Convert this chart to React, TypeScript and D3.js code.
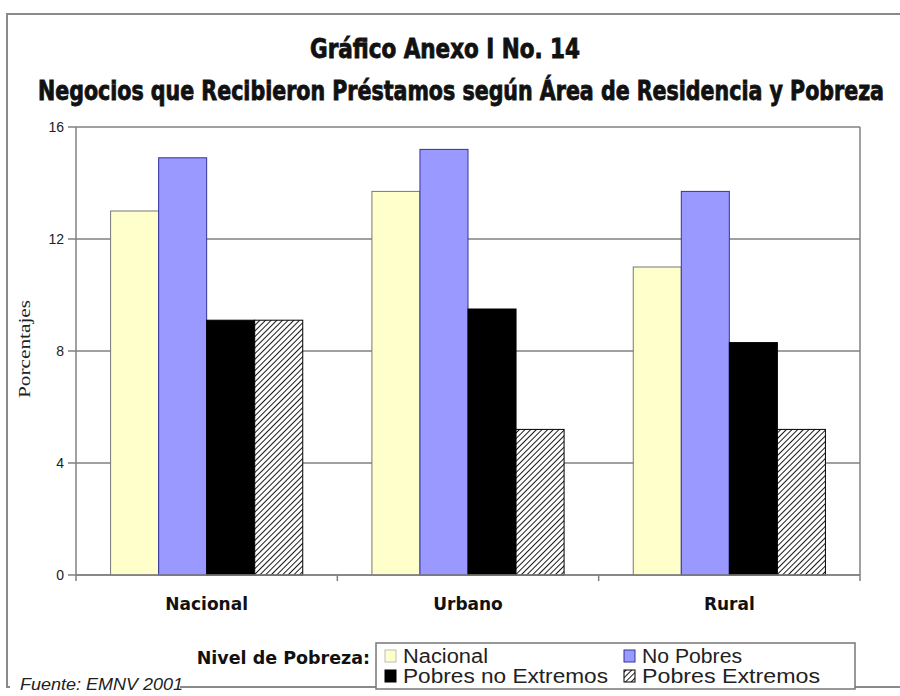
import React from "react";
import * as d3 from "d3";

const categories = ["Nacional", "Urbano", "Rural"];
const seriesNames = ["Nacional", "No Pobres", "Pobres no Extremos", "Pobres Extremos"];
const nacionalValues = [13.0, 13.7, 11.0];
const noPobresValues = [14.9, 15.2, 13.7];
const pobresNoExtremosValues = [9.1, 9.5, 8.3];
const pobresExtremosValues = [9.1, 5.2, 5.2];
const yTicks = [0, 4, 8, 12, 16];

const seriesValues = [nacionalValues, noPobresValues, pobresNoExtremosValues, pobresExtremosValues];
const fills = ["#FFFFCC", "#9999FF", "#000000", "url(#hatch)"];
const strokes = ["#777777", "#333399", "#000000", "#000000"];

const titleFont = "'DejaVu Sans Condensed', 'Liberation Sans Narrow', 'DejaVu Sans', sans-serif";

export default function App() {
  const W = 900, H = 696;
  const left = 76, right = 860, top = 127, bottom = 575;
  const x0 = d3.scaleBand<string>().domain(categories).range([left, right]).padding(0);
  const x1 = d3.scaleBand<string>().domain(seriesNames).range([0, x0.bandwidth()]).paddingInner(0).paddingOuter(0.72);
  const y = d3.scaleLinear().domain([0, 16]).range([bottom, top]);
  const boundaries = [left, ...categories.map((c) => (x0(c) as number) + x0.bandwidth())];

  const legendItems = [
    { name: seriesNames[0], x: 384, y: 663, i: 0, len: 85 },
    { name: seriesNames[1], x: 623, y: 663, i: 1, len: 100 },
    { name: seriesNames[2], x: 384, y: 683, i: 2, len: 205 },
    { name: seriesNames[3], x: 623, y: 683, i: 3, len: 178 },
  ];

  return (
    <svg width={W} height={H} style={{ position: "absolute", left: 0, top: 0, background: "#fff" }}>
      <defs>
        <pattern id="hatch" patternUnits="userSpaceOnUse" width={4} height={4} patternTransform="rotate(45)">
          <rect width={4} height={4} fill="#ffffff" />
          <line x1={0} y1={0} x2={0} y2={4} stroke="#1a1a1a" strokeWidth={2} />
        </pattern>
      </defs>
      <rect x={0} y={0} width={W} height={H} fill="#fff" />
      {/* outer frame */}
      <rect x={7} y={14} width={905} height={673} fill="none" stroke="#8a8a8a" strokeWidth={2} />

      {/* Title */}
      <g transform="translate(445,58) scale(1,1.15)">
        <text x={0} y={0} textAnchor="middle" fontFamily={titleFont} fontWeight="bold" fontSize={23} textLength={270} lengthAdjust="spacingAndGlyphs" fill="#111" stroke="#111" strokeWidth={0.7}>
          Gráfico Anexo I No. 14
        </text>
      </g>
      <g transform="translate(461,100) scale(1,1.15)">
        <text x={0} y={0} textAnchor="middle" fontFamily={titleFont} fontWeight="bold" fontSize={23} textLength={846} lengthAdjust="spacingAndGlyphs" fill="#111" stroke="#111" strokeWidth={0.7}>
          Negocios que Recibieron Préstamos según Área de Residencia y Pobreza
        </text>
      </g>

      {/* gridlines */}
      {yTicks.map((t) => (
        <g key={t}>
          <line x1={left - 8} x2={right} y1={y(t)} y2={y(t)} stroke="#808080" strokeWidth={1.5} />
          <text x={64} y={y(t) + 5} textAnchor="end" fontFamily="'Liberation Sans', Arial, sans-serif" fontSize={14} fill="#222">
            {t}
          </text>
        </g>
      ))}
      {/* plot frame */}
      <line x1={left} x2={left} y1={top} y2={bottom} stroke="#808080" strokeWidth={1.5} />
      <line x1={right} x2={right} y1={top} y2={bottom} stroke="#808080" strokeWidth={1.5} />

      {/* bars */}
      {categories.map((c, ci) => (
        <g key={c} transform={`translate(${x0(c)},0)`}>
          {seriesNames.map((s, si) => {
            const v = seriesValues[si][ci];
            return (
              <rect
                key={s}
                x={x1(s)}
                y={y(v)}
                width={x1.bandwidth()}
                height={bottom - y(v)}
                fill={fills[si]}
                stroke={strokes[si]}
                strokeWidth={1}
              />
            );
          })}
        </g>
      ))}

      {/* x axis */}
      <line x1={left} x2={right} y1={bottom} y2={bottom} stroke="#808080" strokeWidth={1.5} />
      {boundaries.map((b, i) => (
        <line key={i} x1={b} x2={b} y1={bottom} y2={bottom + 6} stroke="#808080" strokeWidth={1.5} />
      ))}
      {categories.map((c) => (
        <text key={c} x={(x0(c) as number) + x0.bandwidth() / 2} y={610} textAnchor="middle" fontFamily="'DejaVu Sans', Verdana, sans-serif" fontWeight="bold" fontSize={17} fill="#111">
          {c}
        </text>
      ))}

      {/* y label */}
      <text transform="translate(30,349) rotate(-90)" textAnchor="middle" fontFamily="'Liberation Serif', 'Times New Roman', serif" fontSize={16} textLength={98} lengthAdjust="spacingAndGlyphs" fill="#222">
        Porcentajes
      </text>

      {/* legend */}
      <text x={370} y={664} textAnchor="end" fontFamily="'DejaVu Sans', Verdana, sans-serif" fontWeight="bold" fontSize={17.5} fill="#111">
        Nivel de Pobreza:
      </text>
      <rect x={376} y={643} width={479} height={46} fill="#fff" stroke="#777" strokeWidth={1.5} />
      {legendItems.map((it) => (
        <g key={it.name}>
          <rect x={it.x + 1} y={it.y - 13} width={11} height={12} fill={fills[it.i]} stroke={it.i === 0 ? "#bbb" : strokes[it.i]} strokeWidth={1} />
          <text x={it.x + 19} y={it.y} fontFamily="'Liberation Sans', Arial, sans-serif" fontSize={20} textLength={it.len} lengthAdjust="spacingAndGlyphs" fill="#222">
            {it.name}
          </text>
        </g>
      ))}

      {/* source */}
      <rect x={10} y={675} width={170} height={21} fill="#fff" />
      <text x={20} y={690} fontFamily="'Liberation Sans', Arial, sans-serif" fontStyle="italic" fontSize={16} textLength={163} lengthAdjust="spacingAndGlyphs" fill="#222">
        Fuente: EMNV 2001
      </text>
    </svg>
  );
}
